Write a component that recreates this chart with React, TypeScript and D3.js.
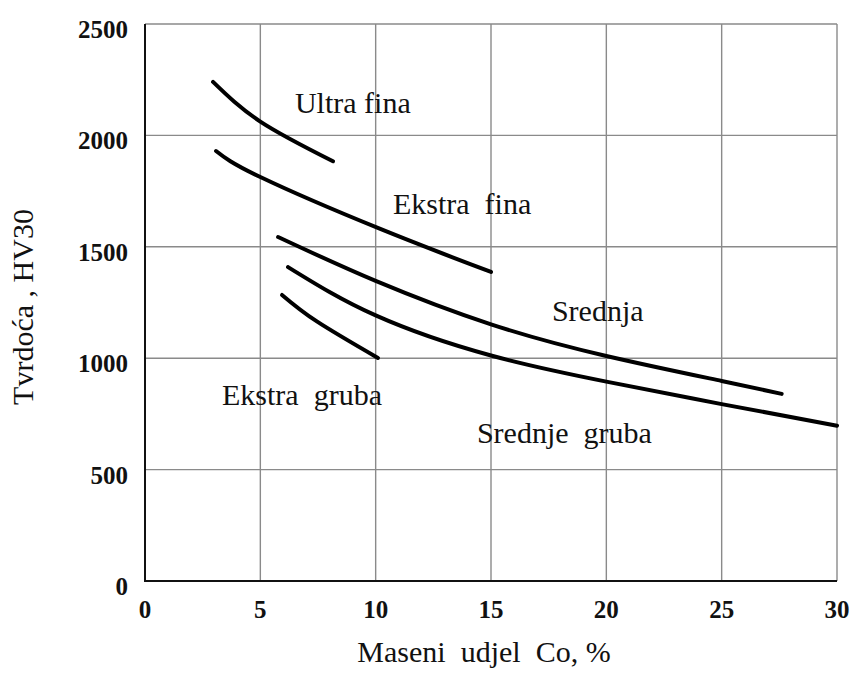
import React from 'react';
import * as d3 from 'd3';

// curves (x = Co mass %, y = HV30)
const ultraFina = [[2.95, 2240], [5, 2062], [8.15, 1884]];
const ekstraFina = [[3.08, 1930], [5, 1813], [10.2, 1580], [15, 1387]];
const srednja = [[5.77, 1544], [10, 1347], [15, 1152], [20, 1010], [25, 898], [27.6, 840]];
const srednjeGruba = [[6.2, 1409], [10, 1192], [15, 1012], [20, 895], [25, 794], [30, 697]];
const ekstraGruba = [[5.94, 1284], [7.45, 1165], [10.1, 1001]];

const curves = [ultraFina, ekstraFina, srednja, srednjeGruba, ekstraGruba];

const labelNames = ['Ultra fina', 'Ekstra  fina', 'Srednja', 'Ekstra  gruba', 'Srednje  gruba'];
const labelX = [6.5, 10.75, 17.64, 3.34, 14.39];
const labelY = [2100, 1647, 1167, 790, 619];

const xTicks = [0, 5, 10, 15, 20, 25, 30];
const yTicks = [0, 500, 1000, 1500, 2000, 2500];

const width = 856;
const height = 673;
const margins = { l: 145, t: 24, r: 19, b: 92 };

const App = () => {
  const plotwidth = width - margins.l - margins.r;
  const plotheight = height - margins.t - margins.b;

  const xScale = d3.scaleLinear().domain([0, 30]).range([margins.l, margins.l + plotwidth]);
  const yScale = d3.scaleLinear().domain([0, 2500]).range([margins.t + plotheight, margins.t]);

  const line = d3
    .line<number[]>()
    .x(d => xScale(d[0]))
    .y(d => yScale(d[1]))
    .curve(d3.curveNatural);

  const serif = '"Liberation Serif", "Times New Roman", serif';

  return (
    <svg
      width={width}
      height={height}
      style={{ position: 'absolute', left: 0, top: 0, background: '#fff' }}
    >
      {/* grid */}
      {xTicks.filter(t => t > 0).map(t => (
        <line key={'gx' + t} x1={xScale(t)} x2={xScale(t)} y1={yScale(0)} y2={yScale(2500)}
          stroke="#8a8a8a" strokeWidth={1.4} />
      ))}
      {yTicks.filter(t => t > 0).map(t => (
        <line key={'gy' + t} x1={xScale(0)} x2={xScale(30)} y1={yScale(t)} y2={yScale(t)}
          stroke="#8a8a8a" strokeWidth={1.4} />
      ))}

      {/* axes */}
      <line x1={xScale(0)} x2={xScale(0)} y1={yScale(0) + 1} y2={yScale(2500)} stroke="#111" strokeWidth={2} />
      <line x1={xScale(0)} x2={xScale(30)} y1={yScale(0)} y2={yScale(0)} stroke="#111" strokeWidth={2} />

      {xTicks.map(t => (
        <text key={'xt' + t} x={xScale(t)} y={yScale(0) + 37} textAnchor="middle"
          fontFamily={serif} fontWeight="bold" fontSize={25} fill="#111">{t}</text>
      ))}
      {yTicks.map(t => (
        <text key={'yt' + t} x={xScale(0) - 17} y={yScale(t) + 14} textAnchor="end"
          fontFamily={serif} fontWeight="bold" fontSize={25} fill="#111">{t}</text>
      ))}

      {/* curves */}
      {curves.map((c, i) => (
        <path key={'c' + i} d={line(c) || ''} fill="none" stroke="#000" strokeWidth={4}
          strokeLinecap="round" strokeLinejoin="round" />
      ))}

      {labelNames.map((n, i) => (
        <text key={'l' + i} x={xScale(labelX[i])} y={yScale(labelY[i])} fontFamily={serif}
          fontSize={30} fill="#111" style={{ whiteSpace: 'pre' }}>{n}</text>
      ))}

      {/* axis titles */}
      <text x={484} y={662} textAnchor="middle" fontFamily={serif} fontSize={30} fill="#111"
        style={{ whiteSpace: 'pre' }}>{'Maseni  udjel  Co, %'}</text>
      <text transform="translate(33,307) rotate(-90)" textAnchor="middle" fontFamily={serif}
        fontSize={30} fill="#111" style={{ whiteSpace: 'pre' }}>{'Tvrdoća , HV30'}</text>
    </svg>
  );
};

export default App;
